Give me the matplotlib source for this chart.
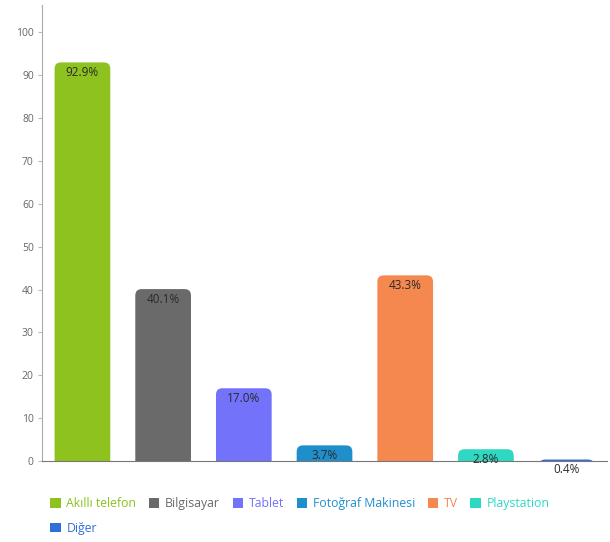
import matplotlib.pyplot as plt
from matplotlib.patches import FancyBboxPatch, Patch

plt.rcParams['font.family'] = ['Open Sans', 'DejaVu Sans']

# Data
categories = ['Akıllı telefon', 'Bilgisayar', 'Tablet', 'Fotoğraf Makinesi',
              'TV', 'Playstation', 'Diğer']
values = [92.9, 40.1, 17.0, 3.7, 43.3, 2.8, 0.4]
colors = ['#8dc21f', '#6a6a6a', '#7272fb', '#1f8fcc', '#f5884f', '#2fd8c2', '#2e6fdc']
yticks = list(range(0, 101, 10))

fig = plt.figure(figsize=(6.1, 5.42), dpi=100)
ax = fig.add_axes([0.069, 0.149, 0.926, 0.842])

x = list(range(len(categories)))
bars = ax.bar(x, values, width=0.69, color=colors)
ax.set_xlim(-0.5, len(categories) - 0.5)
ax.set_ylim(0, 106.3)

# swap plain bars for ones with rounded top corners
r_x = 0.08
aspect = 18.5
for b, c in zip(bars, colors):
    bx, w, h = b.get_x(), b.get_width(), b.get_height()
    bottom = -4
    fb = FancyBboxPatch((bx, bottom), w, h - bottom,
                        boxstyle=f'round,pad=0,rounding_size={r_x}',
                        mutation_aspect=aspect, facecolor=c, edgecolor='none',
                        zorder=2)
    ax.add_patch(fb)
    b.remove()
    ax.annotate(f'{h:.1f}%', (bx + w / 2, h), xytext=(0, -7.5),
                textcoords='offset points', ha='center', va='center',
                fontsize=8.5, color='#2a2a2a', zorder=5, annotation_clip=False)

ax.set_yticks(yticks)
ax.set_xticks([])
ax.tick_params(axis='y', length=3, color='#bbbbbb', labelsize=7.5,
               labelcolor='#666666', pad=3)
for s in ['top', 'right']:
    ax.spines[s].set_visible(False)
ax.spines['left'].set_color('#aaaaaa')
ax.spines['bottom'].set_color('#777777')
ax.spines['bottom'].set_zorder(3)

# legend: order so that Diğer wraps below the first entry
handles = [Patch(facecolor=c, edgecolor='none', label=l) for l, c in zip(categories, colors)]
order = [0, 6, 1, 2, 3, 4, 5]
leg = ax.legend([handles[i] for i in order], [categories[i] for i in order],
                ncol=6, loc='upper left', bbox_to_anchor=(0.006, -0.068),
                frameon=False, fontsize=8.8, handlelength=0.85, handleheight=0.85,
                handletextpad=0.45, columnspacing=1.05, labelspacing=0.95,
                borderaxespad=0)
for t, i in zip(leg.get_texts(), order):
    t.set_color(colors[i])

plt.savefig('out.png', dpi=100)
